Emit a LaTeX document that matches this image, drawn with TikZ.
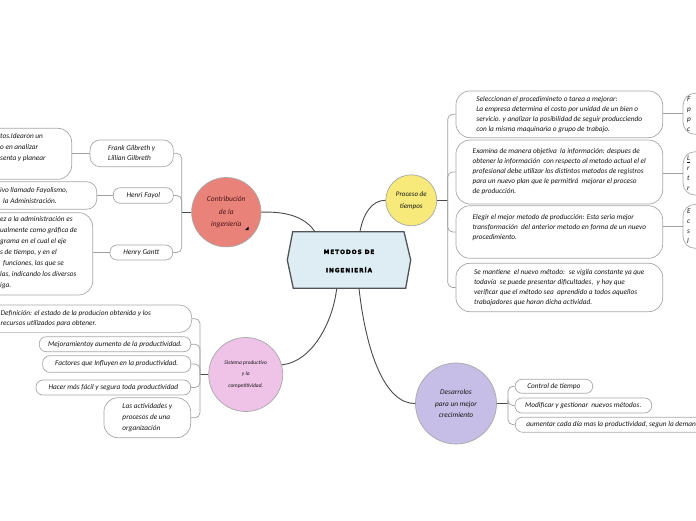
\documentclass[tikz,border=0pt]{standalone}
\usepackage{fontspec}
\setmainfont{Carlito}
\newfontfamily\titlefont[LetterSpace=16, FakeBold=2.5]{DejaVu Sans}
\definecolor{cSalmon}{HTML}{E9837A}
\definecolor{cYellow}{HTML}{F7EA7B}
\definecolor{cPink}{HTML}{EFC2E7}
\definecolor{cLav}{HTML}{C6BEE6}
\definecolor{cHex}{HTML}{DEEDF4}
\definecolor{cHexLine}{HTML}{4F5458}
\definecolor{cBox}{HTML}{A8A8A8}
\definecolor{cMain}{HTML}{4A4A4A}
\definecolor{cSub}{HTML}{A0A0A0}
\definecolor{cTxt}{HTML}{151515}
\definecolor{cMaroon}{HTML}{4A1414}
\newcommand\leaffont{\fontsize{7.3}{10}\selectfont\itshape}
\begin{document}
\begin{tikzpicture}[x=1pt,y=-1pt,
  leaf/.style={draw=cBox, line width=0.7pt, rounded corners=7pt, fill=white, align=left, font=\leaffont, text=cTxt, inner sep=0pt},
  cliptext/.style={align=left, font=\leaffont, text=cTxt, inner sep=0pt, anchor=west},
  bub/.style={circle, draw=cBox, line width=0.7pt, align=center, inner sep=0pt, text=cTxt},
  mainline/.style={draw=cMain, line width=0.9pt},
  subline/.style={draw=cSub, line width=0.7pt, rounded corners=5pt}]
\useasboundingbox (0,0) rectangle (696,520);
\clip (0,0) rectangle (696,520);

% ---------- central hexagon ----------
\draw[fill=cHex, draw=cHexLine, line width=1.3pt]
  (292.7,231.7) -- (404,231.7) -- (410.7,260) -- (405.7,288.3) -- (293.3,288.3) -- (287.3,260) -- cycle;
\node[font=\titlefont\bfseries\fontsize{5.8}{18.3}\selectfont, align=center, inner sep=0pt] (hex) at (349,261) {METODOS DE\\INGENIERÍA};
\coordinate (hA) at (315,231.7);
\coordinate (hB) at (360,231.7);
\coordinate (hC) at (336.7,288.3);
\coordinate (hD) at (359,288.3);

% ---------- main bubbles ----------
\node[bub, fill=cSalmon, minimum size=69.4pt, text=cMaroon, font=\fontsize{7.5}{12.2}\selectfont\itshape] (c1) at (226.3,212.2) {Contribución\\de la\\ingeniería};
\fill[black] (245,230) -- (248.5,230) -- (248.5,226.5) -- cycle;
\node[bub, fill=cYellow, minimum size=51pt, font=\fontsize{7}{11.7}\selectfont\itshape] (c2) at (411.3,200.3) {Proceso de\\tiempos};
\node[bub, fill=cPink, minimum size=74pt, font=\fontsize{5.5}{11.7}\selectfont\itshape] (c3) at (245.7,374.5) {Sistema productivo\\y la\\competitividad.};
\node[bub, fill=cLav, minimum size=81pt, font=\fontsize{7.3}{11.7}\selectfont\itshape] (c4) at (456,403.5) {Desarrolos\\para un mejor\\crecimiento};

\draw[mainline] (c1.east) .. controls (292,211) and (307,220) .. (hA);
\draw[mainline] (hB) .. controls (363,214) and (372,200) .. (c2.west);
\draw[mainline] (hC) .. controls (333,322) and (312,362) .. (c3.15);
\draw[mainline] (hD) .. controls (366,352) and (385,404) .. (c4.west);

% ---------- Contribucion branch ----------
\coordinate (h1) at (181.7,212.2);
\draw[mainline] (c1.west) -- (h1);
\node[leaf, rounded corners=10pt, minimum width=83.3pt, minimum height=26.7pt] (frank) at (131.7,153.3) {Frank Gilbreth y\\Lillian Gilbreth};
\node[leaf, minimum width=60pt, minimum height=15.6pt] (henri) at (143.3,195.5) {Henri Fayol};
\node[leaf, minimum width=62.7pt, minimum height=15pt] (henry) at (141.3,252.5) {Henry Gantt};
\draw[subline] (h1) |- (frank.east);
\draw[subline] (h1) |- (henri.east);
\draw[subline] (h1) |- (henry.east);

\node[leaf, rounded corners=14pt, minimum width=101.7pt, minimum height=51pt] (g1) at (20.85,153.8) {};
\node[cliptext, font=\fontsize{7.3}{11}\selectfont\itshape] (g1t) at (0,147.3) {tos.Idearon un\\o en analizar\\senta y planear};
\node[leaf, rounded corners=10pt, minimum width=126.7pt, minimum height=27.6pt] (g2) at (33.35,195.5) {};
\node[cliptext, font=\fontsize{7.3}{10.7}\selectfont\itshape] (g2t) at (0,195.3) {ivo llamado Fayolismo,\\\hspace*{3pt}la Administración.};
\node[leaf, rounded corners=14pt, minimum width=122.7pt, minimum height=82.3pt] (g3) at (31.35,253.8) {};
\node[cliptext, font=\fontsize{7.3}{10.95}\selectfont\itshape] (g3t) at (0,252.8) {ez a la administración es\\ualmente como gráfica de\\grama en el cual el eje\\s de tiempo, y en el\\\hspace*{3pt}funciones, las que se\\las, indicando los diversos\\iga.};
\draw[subline] (frank.west) -- (frank.west -| g1.east);
\draw[subline] (henri.west) -- (henri.west -| g2.east);
\draw[subline] (henry.west) -- (henry.west -| g3.east);

% ---------- Proceso branch ----------
\coordinate (h2) at (447.7,200.3);
\draw[mainline] (c2.east) -- (h2);
\node[leaf, rounded corners=14pt, minimum width=206.7pt, minimum height=46.7pt] (p1) at (559.3,114.3) {Seleccionan el procedimineto o tarea a mejorar:\\La empresa determina el costo por unidad de un bien o\\servicio. y analizar la posibilidad de seguir producciendo\\con la misma maquinaria o grupo de trabajo.};
\node[leaf, rounded corners=14pt, minimum width=206.7pt, minimum height=64pt] (p2) at (559.3,172) {Examina de manera objetiva \ la información: despues de\\obtener la información \ con respecto al metodo actual el el\\profesional debe utilizar los distintos metodos de registros\\para un nuevo plan que le permitirá \ mejorar el proceso\\de producción.};
\node[leaf, rounded corners=14pt, minimum width=206.7pt, minimum height=52.6pt] (p3) at (559.3,232) {Elegir el mejor metodo de producción: Esta seria mejor\\transformación \ del anterior metodo en forma de un nuevo\\procedimiento.\\\mbox{}};
\node[leaf, rounded corners=14pt, minimum width=206.7pt, minimum height=48.4pt] (p4) at (559.3,287.5) {Se mantiene \ el nuevo método: \ se vigila constante ya que\\todavía \ se puede presentar dificultades, \ y hay que\\verificar que el método sea \ aprendido a todos aquellos\\trabajadores que haran dicha actividad.};
\draw[subline] (h2) |- (p1.west);
\draw[subline] (h2) |- (p2.west);
\draw[subline] (h2) |- (p3.west);
\draw[subline] (h2) |- (p4.west);

\node[leaf, rounded corners=12pt, anchor=west, minimum height=41pt, text width=40pt, inner xsep=4pt] (r1) at (682.7,113.8) {F\\p\\p\\c};
\node[leaf, rounded corners=12pt, anchor=west, minimum height=43.3pt, text width=40pt, inner xsep=4pt] (r2) at (682.7,173.4) {\underline{L}\\r\\t\\r};
\node[leaf, rounded corners=12pt, anchor=west, minimum height=44pt, text width=40pt, inner xsep=4pt] (r3) at (682.7,226.3) {E\\c\\s\\l};
\draw[subline] (r1.west) -- (r1.west -| p1.east);
\draw[subline] (r2.west) -- (r2.west -| p2.east);
\draw[subline] (r3.west) -- (r3.west -| p3.east);

% ---------- Sistema branch ----------
\coordinate (h3) at (200,374.5);
\draw[mainline] (c3.west) -- (h3);
\node[leaf, rounded corners=12pt, minimum width=203.7pt, minimum height=27.3pt] (s1) at (89.85,318.7) {};
\node[cliptext] (s1t) at (0.5,318.3) {Definición: el estado de la producion obtenida y los\\recursos utilizados para obtener.};
\node[leaf, minimum width=151.4pt, minimum height=15pt] (s2) at (115,344.2) {Mejoramientoy aumento de la productividad.};
\node[leaf, minimum width=148pt, minimum height=16.6pt] (s3) at (116.7,364) {Factores que Influyen en la productividad.};
\node[leaf, minimum width=154.7pt, minimum height=15pt] (s4) at (113.3,387.5) {Hacer más fácil y segura toda productividad};
\node[leaf, rounded corners=14pt, minimum width=86.7pt, minimum height=40pt, font=\fontsize{7.3}{10.8}\selectfont\itshape] (s5) at (147.3,417.7) {Las actividades y\\procesos de una\\organización};
\draw[subline] (h3) |- (s1.east);
\draw[subline] (h3) |- (s2.east);
\draw[subline] (h3) |- (s3.east);
\draw[subline] (h3) |- (s4.east);
\draw[subline] (h3) |- (s5.east);

% ---------- Desarrolos branch ----------
\coordinate (h4) at (508,403.5);
\draw[mainline] (c4.east) -- (h4);
\node[leaf, minimum width=77.7pt, minimum height=14pt] (d1) at (553.9,386.3) {Control de tiempo};
\node[leaf, minimum width=136.7pt, minimum height=15pt] (d2) at (583.3,405.5) {Modificar y gestionar \ nuevos métodos.};
\node[leaf, anchor=west, minimum height=15pt, inner xsep=11pt] (d3) at (515,424.7) {aumentar cada día mas la productividad, segun la demanda\hspace*{20pt}};
\draw[subline] (h4) |- (d1.west);
\draw[subline] (h4) |- (d2.west);
\draw[subline] (h4) |- (d3.west);
\end{tikzpicture}
\end{document}
